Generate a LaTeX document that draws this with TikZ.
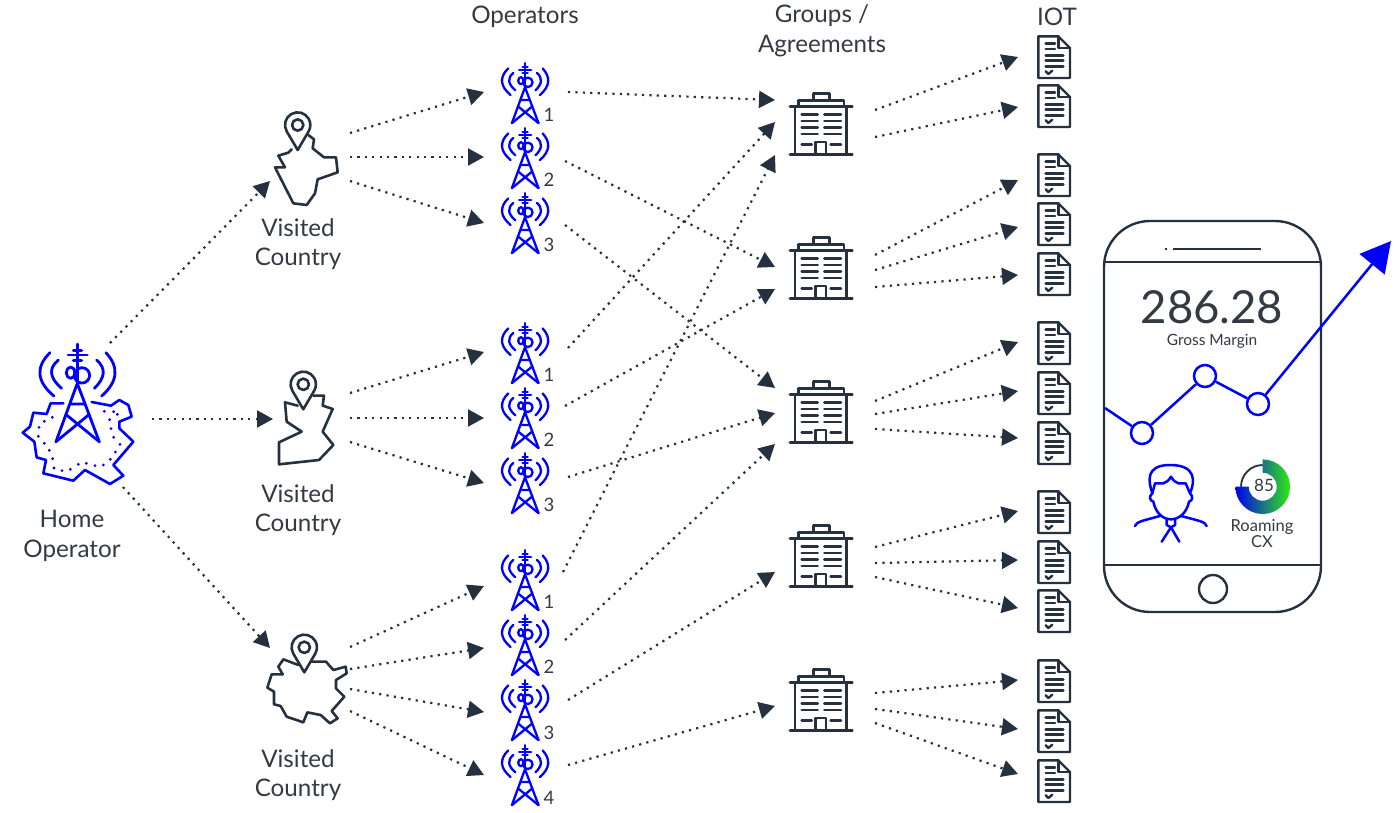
\documentclass[tikz,border=0pt]{standalone}
\usepackage{fontspec}
\setmainfont{Lato}
\usetikzlibrary{arrows.meta}
\definecolor{ink}{HTML}{25313F}
\definecolor{txt}{HTML}{333A42}
\definecolor{bl}{HTML}{0000FF}
\definecolor{gaugeA}{HTML}{0000F0}
\definecolor{gaugeB}{HTML}{2EEA12}
\tikzset{
  anchorpt/.style={inner sep=0pt,minimum size=0pt},
  lab/.style={text=txt,align=center,inner sep=0pt,font=\fontsize{24.2}{29.5}\selectfont},
  num/.style={text=txt,inner sep=0pt,font=\fontsize{18.5}{20}\selectfont},
  dotarrow/.style={ink,line width=2.2pt,dash pattern=on 2.2pt off 5.2pt,-{Triangle[length=16pt,width=17pt]}},
  iconline/.style={ink,line width=2.6pt,line join=round,line cap=round},
  blueline/.style={bl,line width=2.5pt,line join=round,line cap=round},
  tower/.pic={
    \draw (0,-146) -- (0,-30);
    \draw (-28,-113) -- (30,-113) (-12,-127) -- (13,-127) (-12,-97) -- (13,-97);
    \draw (0,-28) -- (-64,147) (0,-28) -- (66,147);
    \draw (-20,34) -- (22,34) (-32,67) -- (66,147) (36,65) -- (-64,147);
    \draw (14,-52) circle[radius=23];
    \draw (-20,-60) ellipse[x radius=13,y radius=17];
    \draw (-57,-98) .. controls (-87,-73) and (-84,-45) .. (-47,-13);
    \draw (-82,-120) .. controls (-126,-77) and (-122,-33) .. (-70,10);
    \draw (58,-98) .. controls (87,-73) and (84,-45) .. (51,-13);
    \draw (86,-120) .. controls (126,-77) and (122,-33) .. (73,10);
  },
  building/.pic={
    \draw (-23,-83) -- (-23,-100) -- (25,-100) -- (25,-83);
    \draw (-68,-63) -- (-68,-80) -- (69,-80) -- (69,-63);
    \draw (-93,-62) -- (94,-62) (-93,83) -- (94,83);
    \draw (-78,-62) -- (-78,83) (77,-62) -- (77,83);
    \draw (-16,83) -- (-16,45) -- (15,45) -- (15,83);
    \foreach \yy in {-37,-18,2,21} {\draw (-58,\yy) -- (-10,\yy) (10,\yy) -- (60,\yy);}
    \draw (-58,52) -- (-28,52) (29,52) -- (60,52);
  },
  docu/.pic={
    \draw (-47,-62) -- (13,-62) -- (48,-27) -- (48,63) -- (-47,63) -- cycle;
    \draw (13,-62) -- (13,-27) -- (48,-27);
    \draw (-25,-40) -- (3,-40) (-25,-24) -- (3,-24);
    \draw (-25,-5) -- (28,-5) (-25,11) -- (28,11) (-25,28) -- (28,28);
    \draw (-25,43) -- (-17,51) -- (-5,41);
  },
  mappin/.pic={
    \draw (0,75) -- (-33,19) arc[start angle=150,end angle=390,radius=38] -- cycle;
    \draw (0,0) circle[radius=17];
  }
}
\newcommand{\towerat}[4]{%
  \node[anchorpt] (#1) at (525,#2) {};
  \pic[blueline,line width=2.3pt,scale=0.205] at (#1) {tower};
  \node[num] (#1n) at (549,#4) {#3};
}
\newcommand{\buildat}[2]{%
  \node[anchorpt] (#1) at (821,#2) {};
  \pic[iconline,scale=1/3] at (#1) {building};
}
\newcommand{\docat}[2]{%
  \node[anchorpt] (#1) at (1054,#2) {};
  \pic[iconline,line width=2.4pt,scale=1/3] at (#1) {docu};
}
\newcommand{\conn}[4]{%
  \draw[dotarrow] ([shift={(#2)}]#1.center) -- ([shift={(#4)}]#3.center);
}
\begin{document}
\begin{tikzpicture}[x=1pt,y=-1pt]
\useasboundingbox (0,0) rectangle (1400,812);

% anchor nodes
\node[anchorpt] (home) at (77,415) {};
\node[anchorpt] (v1) at (305,160) {};
\node[anchorpt] (v2) at (305,420) {};
\node[anchorpt] (v3) at (305,680) {};

% home operator
\begin{scope}[shift={(0,320)},scale=1/3]
  \draw[blueline,line width=2.6pt] (190,250) -- (152,250) -- (140,282) -- (100,278) -- (90,320) -- (68,338) -- (103,365) -- (110,412) -- (138,420) -- (130,460) -- (220,482) -- (255,450) -- (330,492) -- (370,467) -- (340,435) -- (400,365) -- (358,325) -- (358,305) -- (395,290) -- (385,255) -- (358,240) -- (333,257) -- (275,246);
  \foreach \p in {(157,292),(133,304),(117,322),(115,349),(133,370),(148,391),(158,416),(162,444),(186,452),(211,448),(235,433),(259,430),(285,437),(310,435),(331,418),(346,396),(360,373),(341,352),(333,326),(329,299),(352,283),(341,275),(313,274)}
    \fill[bl] \p circle[radius=4.6];
\end{scope}
\pic[blueline,line width=2.8pt,scale=1/3] at (77.3,392.7) {tower};
\node[lab] (homel) at (72,536) {Home\\Operator};

% countries
\begin{scope}[shift={(250,100)},scale=1/3]
  \draw[iconline] (125,148) -- (115,158) -- (85,167) -- (105,202) -- (75,202) -- (130,310) -- (170,315) -- (195,280) -- (203,238) -- (263,217) -- (258,172) -- (222,172) -- (188,145) -- (192,118) -- (175,105);
\end{scope}
\pic[iconline,scale=1/3] at (297.7,125) {mappin};
\begin{scope}[shift={(250,365)},scale=1/3]
  \draw[iconline] (143,122) -- (105,112) -- (110,170) -- (155,200) -- (87,232) -- (87,298) -- (207,285) -- (250,240) -- (218,200) -- (248,132) -- (218,122) -- (222,92) -- (190,92);
\end{scope}
\pic[iconline,scale=1/3] at (303.3,384.3) {mappin};
\begin{scope}[shift={(250,625)},scale=1/3]
  \draw[iconline] (145,120) -- (100,103) -- (85,125) -- (98,148) -- (65,148) -- (52,188) -- (72,200) -- (72,238) -- (92,243) -- (110,275) -- (160,292) -- (172,262) -- (212,270) -- (240,295) -- (263,280) -- (245,258) -- (283,215) -- (258,190) -- (258,165) -- (290,145) -- (287,125) -- (250,135) -- (228,110) -- (185,110);
\end{scope}
\pic[iconline,scale=1/3] at (304.3,647.3) {mappin};
\node[lab] (l1) at (298,244) {Visited\\Country};
\node[lab] (l2) at (298,510) {Visited\\Country};
\node[lab] (l3) at (298,775) {Visited\\Country};

% headers
\node[lab] (h1) at (525,16.5) {Operators};
\node[lab] (h2) at (822,31) {Groups /\\Agreements};
\node[lab] (h3) at (1057,16.5) {IOT};

% towers
\towerat{a1}{93}{1}{115}
\towerat{a2}{158}{2}{180}
\towerat{a3}{223}{3}{245}
\towerat{b1}{353}{1}{375}
\towerat{b2}{418}{2}{440}
\towerat{b3}{483}{3}{505}
\towerat{c1}{580}{1}{602}
\towerat{c2}{645}{2}{667}
\towerat{c3}{710}{3}{733}
\towerat{c4}{775}{4}{798}

% buildings
\buildat{B1}{127}
\buildat{B2}{271}
\buildat{B3}{415}
\buildat{B4}{559}
\buildat{B5}{703}

% documents
\docat{d1}{57}
\docat{d2}{106}
\docat{d3}{175}
\docat{d4}{224}
\docat{d5}{274}
\docat{d6}{343}
\docat{d7}{393}
\docat{d8}{443}
\docat{d9}{512}
\docat{d10}{562}
\docat{d11}{611}
\docat{d12}{681}
\docat{d13}{731}
\docat{d14}{781}

% connectors
\conn{home}{33,-72}{v1}{-35,21}
\conn{home}{75,4}{v2}{-32,-1}
\conn{home}{46,72}{v3}{-35,-32}
\conn{v1}{45,-27}{a1}{-41,-1}
\conn{v1}{45,-3}{a2}{-41,-1}
\conn{v1}{45,21}{a3}{-41,0}
\conn{v2}{45,-27}{b1}{-41,-1}
\conn{v2}{45,-2}{b2}{-41,0}
\conn{v2}{45,22}{b3}{-41,0}
\conn{v3}{45,-33}{c1}{-41,6}
\conn{v3}{45,-11}{c2}{-41,3}
\conn{v3}{45,9}{c3}{-41,2}
\conn{v3}{45,31}{c4}{-41,0}
\conn{a1}{43,-1}{B1}{-46,-27}
\conn{a2}{40,3}{B2}{-46,-4}
\conn{a3}{40,2}{B3}{-46,-27}
\conn{b1}{43,-5}{B1}{-46,-5}
\conn{b2}{40,-12}{B2}{-46,18}
\conn{b3}{43,-6}{B3}{-46,-2}
\conn{c1}{38,-8}{B1}{-46,28}
\conn{c2}{40,-5}{B3}{-46,29}
\conn{c3}{43,-10}{B4}{-46,13}
\conn{c4}{43,-10}{B5}{-46,3}
\conn{B1}{54,-17}{d1}{-36,0}
\conn{B1}{54,10}{d2}{-36,1}
\conn{B2}{54,-16}{d3}{-36,5}
\conn{B2}{54,-1}{d4}{-36,3}
\conn{B2}{54,16}{d5}{-36,1}
\conn{B3}{54,-14}{d6}{-36,-1}
\conn{B3}{54,-1}{d7}{-36,-2}
\conn{B3}{54,14}{d8}{-36,-5}
\conn{B4}{54,-12}{d9}{-36,-1}
\conn{B4}{54,4}{d10}{-36,-2}
\conn{B4}{54,18}{d11}{-36,-3}
\conn{B5}{54,-10}{d12}{-36,-1}
\conn{B5}{54,6}{d13}{-36,-2}
\conn{B5}{54,20}{d14}{-36,-7}

% phone
\draw[ink,line width=2.4pt,rounded corners=46pt] (1104,221) rectangle (1321,612);
\draw[ink,line width=2.4pt] (1104,262) -- (1321,262) (1104,565) -- (1321,565);
\draw[ink,line width=2pt] (1165,249) -- (1167,249) (1173,249) -- (1261,249);
\draw[ink,line width=2.4pt] (1213,589) circle[radius=14];
\node[inner sep=0pt,text=txt,font=\fontsize{45.5}{48}\selectfont] (val) at (1212,307) {286.28};
\node[inner sep=0pt,text=txt,font=\fontsize{15.5}{18}\selectfont] (valcap) at (1212,341) {Gross Margin};

% chart
\coordinate (cs) at (1105,408);
\coordinate (ct) at (1391,241);
\node[circle,draw=bl,line width=2.5pt,fill=white,minimum size=22pt,inner sep=0pt] (p1) at (1142,433) {};
\node[circle,draw=bl,line width=2.5pt,fill=white,minimum size=22pt,inner sep=0pt] (p2) at (1205,376) {};
\node[circle,draw=bl,line width=2.5pt,fill=white,minimum size=22pt,inner sep=0pt] (p3) at (1258,404) {};
\draw[bl,line width=2.5pt] (cs) -- (p1) (p1) -- (p2) (p2) -- (p3);
\draw[bl,line width=2.5pt,-{Triangle[length=30pt,width=32pt]}] (p3) -- (ct);

% person
\begin{scope}[shift={(1095,440)},scale=1/3]
  \draw[blueline] (172,160) .. controls (160,125) and (150,75) .. (225,75) .. controls (305,75) and (300,125) .. (285,160);
  \draw[blueline] (172,160) -- (180,130) -- (205,130) .. controls (215,128) and (222,120) .. (228,110) .. controls (234,120) and (241,128) .. (250,130) -- (272,130) -- (285,160);
  \draw[blueline] (172,160) .. controls (160,170) and (165,182) .. (175,185) .. controls (182,220) and (205,238) .. (228,238) .. controls (251,238) and (275,220) .. (282,185) .. controls (292,182) and (296,170) .. (285,160);
  \draw[blueline] (120,258) .. controls (125,245) and (140,243) .. (195,228);
  \draw[blueline] (335,258) .. controls (330,245) and (315,243) .. (258,228);
  \draw[blueline] (215,238) -- (215,255) -- (228,262) -- (240,255) -- (240,238);
  \draw[blueline] (228,262) -- (200,305) (228,262) -- (253,305);
\end{scope}

% gauge
\coordinate (gc) at (1262.7,486.7);
\draw[ink,line width=1.8pt] ([shift={(-21.7,0)}]gc) arc[start angle=180,end angle=270,radius=21.7];
\shade[left color=gaugeA,right color=gaugeB] ([shift={(0,-27.3)}]gc) arc[start angle=270,end angle=540,radius=27.3] -- ([shift={(-14,0)}]gc) arc[start angle=540,end angle=270,radius=14] -- cycle;
\node[inner sep=0pt,text=txt,font=\fontsize{17}{20}\selectfont] (gv) at (1264,485) {85};
\node[inner sep=0pt,text=txt,align=center,font=\fontsize{16.5}{15.5}\selectfont] (gl) at (1262,533.5) {Roaming\\CX};
\end{tikzpicture}
\end{document}
